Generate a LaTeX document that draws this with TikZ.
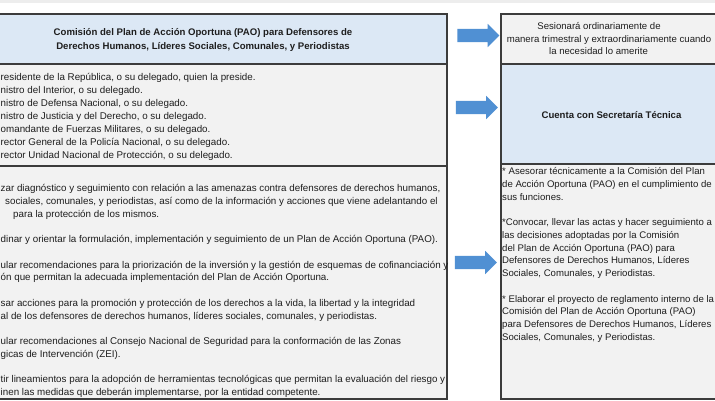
\documentclass[tikz,border=0pt]{standalone}
\usepackage{fontspec}
\setmainfont{Liberation Sans}
\usetikzlibrary{shapes.arrows}
\definecolor{boxgray}{HTML}{F2F2F2}
\definecolor{boxblue}{HTML}{DCE8F5}
\definecolor{edgecol}{HTML}{3C3C3C}
\definecolor{arrowblue}{HTML}{5090D3}
\definecolor{topband}{HTML}{EDEDED}
\definecolor{txtcol}{HTML}{1E1E1E}
\begin{document}
\begin{tikzpicture}[x=1pt,y=-1pt,
  panel/.style={draw=edgecol, line width=1.5pt, inner sep=0pt, anchor=north west},
  txt/.style={inner sep=0pt, text=txtcol, font=\fontsize{9.8}{12}\selectfont},
  rtxt/.style={inner sep=0pt, text=txtcol, font=\fontsize{9.6}{12}\selectfont},
  boldtxt/.style={txt, font=\fontsize{9.6}{12}\selectfont\bfseries},
  blockarrow/.style={shape=single arrow, fill=arrowblue, draw=none, inner xsep=0pt,
    inner ysep=6.5pt, minimum height=42pt, single arrow head extend=5pt}]
\useasboundingbox (0,0) rectangle (715,400);
\clip (0,0) rectangle (715,400);
\fill[white] (0,0) rectangle (715,400);
\fill[topband] (0,0) rectangle (715,3);

% left column
\node[panel, fill=boxblue, minimum width=486pt, minimum height=50pt] (hdr) at (-40,13) {};
\node[panel, fill=boxgray, minimum width=486pt, minimum height=102pt] (mem) at (-40,63) {};
\node[panel, fill=boxgray, minimum width=486pt, minimum height=233pt] (fun) at (-40,165) {};

% right column
\node[panel, fill=boxgray, minimum width=240pt, minimum height=50pt] (ses) at (500,13) {};
\node[panel, fill=boxblue, minimum width=240pt, minimum height=100pt] (sec) at (500,63) {};
\node[panel, fill=boxgray, minimum width=240pt, minimum height=235pt] (act) at (500,163) {};

% arrows
\node[blockarrow] (a1) at (475,35.5) {};
\node[blockarrow] (a2) at (473.5,107.5) {};
\node[blockarrow] (a3) at (472.5,262.5) {};

% title
\node[boldtxt, anchor=base] (t1) at (203,35.5) {Comisión del Plan de Acción Oportuna (PAO) para Defensores de};
\node[boldtxt, anchor=base] (t2) at (203,49.5) {Derechos Humanos, Líderes Sociales, Comunales, y Periodistas};

% members
\foreach \k/\mytext [count=\n] in {
  0/{residente de la República, o su delegado, quien la preside.},
  1/{nistro del Interior, o su delegado.},
  2/{nistro de Defensa Nacional, o su delegado.},
  3/{nistro de Justicia y del Derecho, o su delegado.},
  4/{omandante de Fuerzas Militares, o su delegado.},
  5/{rector General de la Policía Nacional, o su delegado.},
  6/{rector Unidad Nacional de Protección, o su delegado.}}
  \node[txt, anchor=base west] (m\n) at (0.5,{80.5+13*\k}) {\mytext};

% functions
\foreach \x/\k/\mytext [count=\n] in {
  0.5/0/{zar diagnóstico y seguimiento con relación a las amenazas contra defensores de derechos humanos,},
  5/1/{sociales, comunales, y periodistas, así como de la información y acciones que viene adelantando el},
  13/2/{para la protección de los mismos.},
  0.5/4/{dinar y orientar la formulación, implementación y seguimiento de un Plan de Acción Oportuna (PAO).},
  0.5/6/{ular recomendaciones para la priorización de la inversión y la gestión de esquemas de cofinanciación y},
  0.5/7/{ón que permitan la adecuada implementación del Plan de Acción Oportuna.},
  0.5/9/{sar acciones para la promoción y protección de los derechos a la vida, la libertad y la integridad},
  0.5/10/{al de los defensores de derechos humanos, líderes sociales, comunales, y periodistas.},
  0.5/12/{ular recomendaciones al Consejo Nacional de Seguridad para la conformación de las Zonas},
  0.5/13/{gicas de Intervención (ZEI).},
  0.5/15/{tir lineamientos para la adopción de herramientas tecnológicas que permitan la evaluación del riesgo y},
  0.5/16/{inen las medidas que deberán implementarse, por la entidad competente.}}
  \node[txt, anchor=base west] (f\n) at (\x,{191.5+12.75*\k}) {\mytext};

% right texts
\node[rtxt, anchor=base] (s1) at (599,29.5) {Sesionará ordinariamente de};
\node[rtxt, anchor=base] (s2) at (609,42) {manera trimestral y extraordinariamente cuando};
\node[rtxt, anchor=base] (s3) at (598.5,54.5) {la necesidad lo amerite};
\node[boldtxt, anchor=base] (c1) at (611.5,118) {Cuenta con Secretaría Técnica};

\foreach \k/\mytext [count=\n] in {
  0/{* Asesorar técnicamente a la Comisión del Plan},
  1/{de Acción Oportuna (PAO) en el cumplimiento de},
  2/{sus funciones.},
  4/{*Convocar, llevar las actas y hacer seguimiento a},
  5/{las decisiones adoptadas por la Comisión},
  6/{del Plan de Acción Oportuna (PAO) para},
  7/{Defensores de Derechos Humanos, Líderes},
  8/{Sociales, Comunales, y Periodistas.},
  10/{* Elaborar el proyecto de reglamento interno de la},
  11/{Comisión del Plan de Acción Oportuna (PAO)},
  12/{para Defensores de Derechos Humanos, Líderes},
  13/{Sociales, Comunales, y Periodistas.}}
  \node[rtxt, anchor=base west] (r\n) at (502,{174.5+12.75*\k}) {\mytext};
\end{tikzpicture}
\end{document}
